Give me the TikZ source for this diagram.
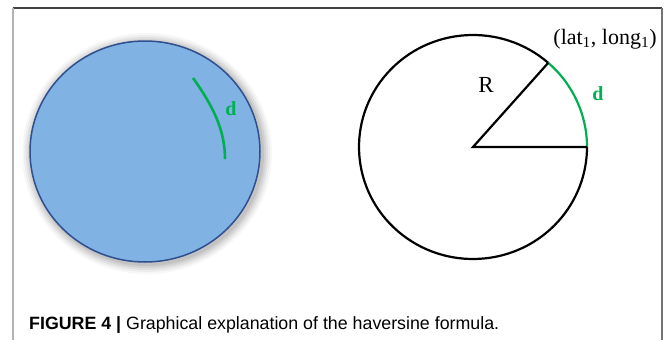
\documentclass[tikz,border=0pt]{standalone}
\usepackage{fontspec}
\usetikzlibrary{shapes.geometric}
\setmainfont{Liberation Serif}
\newfontfamily\capfont{Liberation Sans}
\definecolor{earth}{HTML}{80B3E3}
\definecolor{earthline}{HTML}{2F4F8F}
\definecolor{arcgreen}{HTML}{00B050}
\begin{document}
\begin{tikzpicture}[x=1pt,y=-1pt,
  lbl/.style={inner sep=0pt,anchor=center},
  greenarc/.style={draw=arcgreen,line width=2.6pt}]
\useasboundingbox (0,0) rectangle (671,340);
\fill[white] (0,0) rectangle (671,340);
% frame
\draw[draw=black!75,line width=1.3pt] (12.5,8) -- (662,8);
\draw[draw=black!30,line width=2pt] (12.5,8) -- (12.5,340);
\draw[draw=black!55,line width=1.5pt] (662,8) -- (662,340);
% left globe shadow
\foreach \k/\o in {10/0.03,8/0.04,6/0.05,4/0.06,2/0.07}{
  \fill[black,opacity=\o] (147,153.5) ellipse ({115+\k} and {110.5+\k});
}
\node[draw=earthline,fill=earth,line width=1.5pt,ellipse,minimum width=230pt,minimum height=221pt,inner sep=0pt] (globe) at (145,151.5) {};
\coordinate (ga) at (193,78);
\coordinate (gb) at (225,159);
\draw[greenarc] (ga) .. controls (213,106) and (225,130) .. (gb);
\node[lbl,text=arcgreen,font=\bfseries\fontsize{20}{20}\selectfont] (dl) at (231,109) {d};
% right circle
\coordinate (c) at (473,147);
\begin{scope}[shift={(c)},x=1pt,y=1pt]
\draw[black,line width=2.2pt] (48.7:114pt and 112pt) arc[start angle=48.7,end angle=360,x radius=114,y radius=112];
\draw[draw=arcgreen,line width=2.2pt] (0:114pt and 112pt) arc[start angle=0,end angle=48.7,x radius=114,y radius=112];
\end{scope}
\coordinate (p0) at (587,147);
\coordinate (p1) at (548.2,62.9);
\draw[black,line width=2.2pt,line join=miter] (p1) -- (c) -- (p0);
\node[lbl,font=\fontsize{23}{23}\selectfont] (R) at (486,85) {R};
\node[lbl,text=arcgreen,font=\bfseries\fontsize{20}{20}\selectfont] (dr) at (598,94) {d};
\node[lbl,font=\fontsize{22}{22}\selectfont] (pt) at (605,39) {(lat\textsubscript{1}, long\textsubscript{1})};
% caption
\node[anchor=base west,inner sep=0pt,font=\capfont\fontsize{17.8}{17.8}\selectfont] (cap) at (29,329) {\textbf{FIGURE 4 |} Graphical explanation of the haversine formula.};
\end{tikzpicture}
\end{document}
